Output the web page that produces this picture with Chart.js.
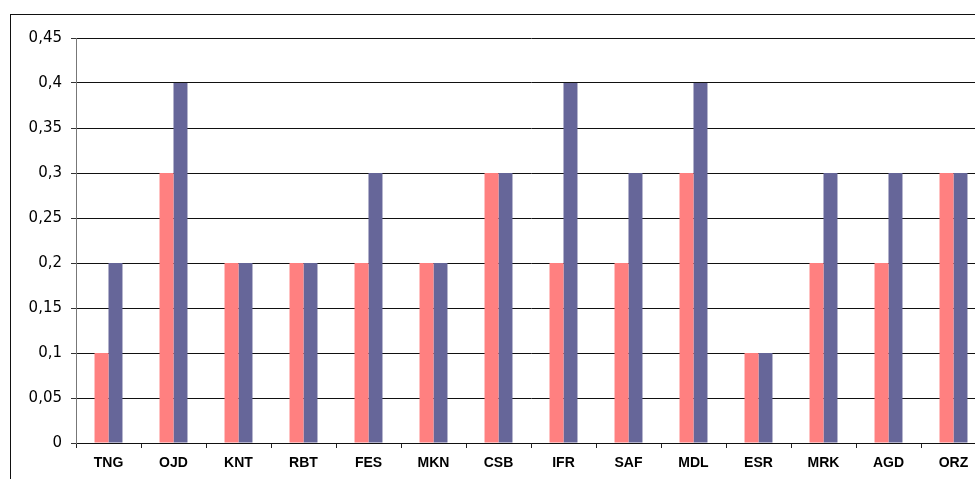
<!DOCTYPE html>
<html>
<head>
<meta charset="utf-8">
<script src="https://cdn.jsdelivr.net/npm/chart.js@4/dist/chart.umd.min.js"></script>
<style>
  html, body { margin: 0; padding: 0; background: #fff; overflow: hidden; }
  #wrap { position: relative; width: 975px; height: 479px; overflow: hidden; }
  #cadre { position: absolute; left: 10px; top: 14px; width: 1100px; height: 600px;
           border-left: 1px solid #111; border-top: 1px solid #111; }
  #graf { position: absolute; left: 0; top: 0; }
</style>
</head>
<body>
<div id="wrap">
  <div id="cadre"></div>
  <canvas id="graf" width="1000" height="479"></canvas>
</div>
<script>
const villes = ['TNG', 'OJD', 'KNT', 'RBT', 'FES', 'MKN', 'CSB', 'IFR', 'SAF', 'MDL', 'ESR', 'MRK', 'AGD', 'ORZ'];
const serieRose = [0.1, 0.3, 0.2, 0.2, 0.2, 0.2, 0.3, 0.2, 0.2, 0.3, 0.1, 0.2, 0.2, 0.3];
const serieBleue = [0.2, 0.4, 0.2, 0.2, 0.3, 0.2, 0.3, 0.4, 0.3, 0.4, 0.1, 0.3, 0.3, 0.3];
const yMax = 0.45;
const yPas = 0.05;

const ctx = document.getElementById('graf').getContext('2d');
new Chart(ctx, {
    type: 'bar',
    data: {
        labels: villes,
        datasets: [
            { data: serieRose, backgroundColor: '#FF8080', categoryPercentage: 0.43, barPercentage: 1 },
            { data: serieBleue, backgroundColor: '#666699', categoryPercentage: 0.43, barPercentage: 1 }
        ]
    },
    options: {
        responsive: false,
        animation: false,
        layout: { padding: { left: 0, top: 38, right: 14, bottom: 0 } },
        plugins: { legend: { display: false }, tooltip: { enabled: false } },
        scales: {
            x: {
                grid: { offset: true, drawOnChartArea: false, drawTicks: true, tickLength: 5, tickColor: '#222' },
                border: { color: '#111', width: 1 },
                ticks: { color: '#000', padding: 7, maxRotation: 0, autoSkip: false,
                         font: { family: 'Liberation Sans, Arial', size: 14, weight: 'bold' } },
                afterFit: s => { s.height = 36; }
            },
            y: {
                min: 0,
                max: yMax,
                ticks: {
                    stepSize: yPas,
                    color: '#000',
                    padding: 9,
                    font: { family: 'DejaVu Sans, Verdana', size: 15 },
                    callback: v => String(Math.round(v * 100) / 100).replace('.', ',')
                },
                grid: { color: '#111', lineWidth: 1, tickLength: 5, tickColor: '#333' },
                border: { color: '#777', width: 1 },
                afterFit: s => { s.width = 76; }
            }
        }
    }
});
</script>
</body>
</html>
